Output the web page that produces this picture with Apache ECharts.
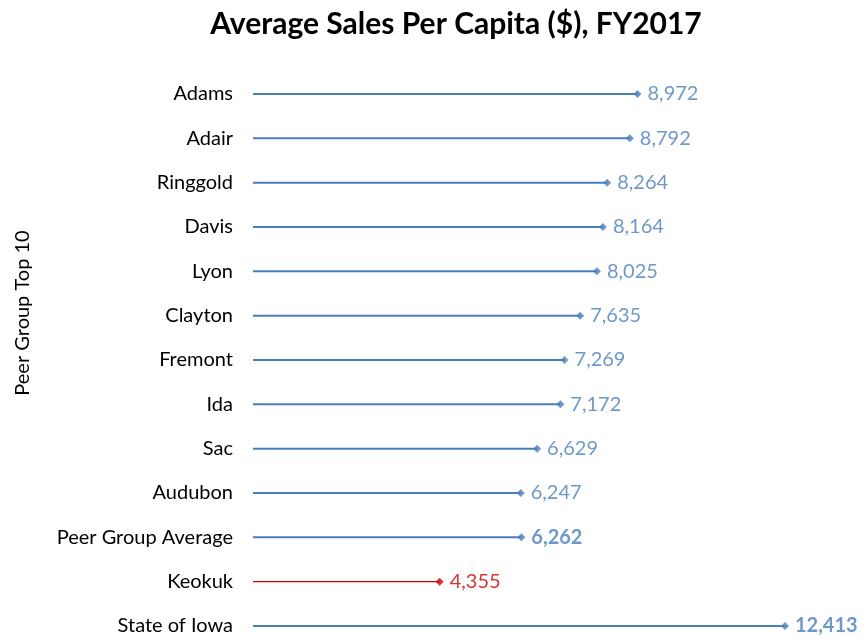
<!DOCTYPE html>
<html>
<head>
<meta charset="utf-8">
<script src="https://cdn.jsdelivr.net/npm/echarts@6/dist/echarts.min.js"></script>
<style>
  html, body { margin: 0; padding: 0; background: #fff; }
  #main { width: 867px; height: 637px; }
</style>
</head>
<body>
<div id="main"></div>
<script>
var counties = ['Adams', 'Adair', 'Ringgold', 'Davis', 'Lyon', 'Clayton', 'Fremont', 'Ida', 'Sac',
  'Audubon', 'Peer Group Average', 'Keokuk', 'State of Iowa'];
var sales = [8972, 8792, 8264, 8164, 8025, 7635, 7269, 7172, 6629, 6247, 6262, 4355, 12413];
var highlight = ['Peer Group Average', 'State of Iowa'];
var redOnes = ['Keokuk'];

var BLUE = '#4A7EBB';
var RED = '#D00000';
var FONT = 'Lato';

var chart = echarts.init(document.getElementById('main'));

var points = sales.map(function (v, i) {
  var name = counties[i];
  var isRed = redOnes.indexOf(name) >= 0;
  var bold = highlight.indexOf(name) >= 0;
  return {
    value: [v, name],
    itemStyle: { color: isRed ? RED : BLUE },
    label: {
      color: isRed ? RED : BLUE,
      fontWeight: bold ? 'bold' : 'normal'
    }
  };
});

var option = {
  animation: false,
  title: {
    text: 'Average Sales Per Capita ($), FY2017',
    left: 451,
    textAlign: 'center',
    top: 4,
    textStyle: { fontFamily: FONT, fontSize: 30, fontWeight: 'bold', color: '#000' }
  },
  grid: { left: 253, top: 94, width: 600, height: 532 },
  xAxis: {
    type: 'value',
    min: 0,
    max: 14000,
    show: false
  },
  yAxis: {
    type: 'category',
    data: counties,
    inverse: true,
    boundaryGap: false,
    axisLine: { show: false },
    axisTick: { show: false },
    splitLine: { show: false },
    axisLabel: { margin: 20, fontFamily: FONT, fontSize: 20, color: '#000' }
  },
  graphic: [{
    type: 'text',
    x: 23,
    y: 313,
    rotation: Math.PI / 2,
    style: {
      text: 'Peer Group Top 10',
      fontFamily: FONT,
      fontSize: 20,
      fill: '#000',
      align: 'center',
      verticalAlign: 'middle'
    }
  }],
  series: [{
    type: 'custom',
    renderItem: function (params, api) {
      var idx = params.dataIndex;
      var start = api.coord([0, api.value(1)]);
      var end = api.coord([api.value(0), api.value(1)]);
      var isRed = redOnes.indexOf(counties[idx]) >= 0;
      return {
        type: 'line',
        shape: { x1: start[0], y1: start[1], x2: end[0], y2: end[1] },
        style: { stroke: isRed ? RED : BLUE, lineWidth: isRed ? 1.2 : 2 }
      };
    },
    encode: { x: 0, y: 1 },
    data: sales.map(function (v, i) { return [v, counties[i]]; }),
    silent: true
  }, {
    type: 'scatter',
    symbol: 'diamond',
    symbolSize: 8,
    data: points,
    label: {
      show: true,
      position: 'right',
      distance: 6,
      fontFamily: FONT,
      fontSize: 20,
      formatter: function (p) { return p.value[0].toLocaleString('en-US'); }
    },
    silent: true
  }]
};

chart.setOption(option);
</script>
</body>
</html>
